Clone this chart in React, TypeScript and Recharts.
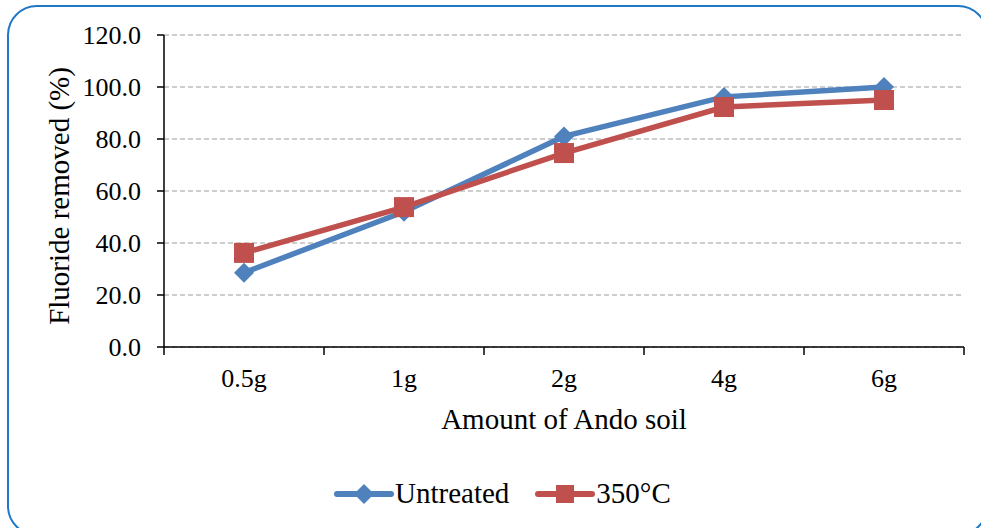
import { CartesianGrid, Line, LineChart, XAxis, YAxis } from 'recharts';

// amount of soil used per run
const categories = ['0.5g', '1g', '2g', '4g', '6g'];

// fluoride removed (%)
const untreated = [28.6, 52.0, 81.0, 96.2, 100.0];
const heated350 = [36.2, 53.8, 74.6, 92.3, 95.0];

const seriesNames = ['Untreated', '350°C'];
const yTicks = [0, 20, 40, 60, 80, 100, 120];
const xTicks = [0, 1, 2, 3, 4, 5];

const BLUE = '#4f81bd';
const RED = '#c0504d';
const FONT = '"Liberation Serif", "Times New Roman", serif';

const data = categories.map((name, i) => ({
    name,
    pos: i + 0.5,
    untreated: untreated[i],
    heated: heated350[i],
}));

const CHART_W = 981;
const CHART_H = 440;
const MARGIN = { top: 35, right: 17, left: 0, bottom: 0 };
const Y_W = 164;
const HALF_BAND = (CHART_W - MARGIN.right - Y_W) / categories.length / 2;

const Diamond = (props: any) => {
    const { cx, cy } = props;
    if (cx == null || cy == null) return <g />;
    return <path d={`M${cx},${cy - 10}L${cx + 10},${cy}L${cx},${cy + 10}L${cx - 10},${cy}Z`} fill={BLUE} />;
};

const Square = (props: any) => {
    const { cx, cy } = props;
    if (cx == null || cy == null) return <g />;
    return <rect x={cx - 10} y={cy - 10} width={20} height={20} fill={RED} />;
};

// labels sit between the boundary ticks
const CatTick = (props: any) => {
    const { x, y, payload } = props;
    const label = categories[payload.value];
    if (!label) return <g />;
    return (
        <text x={x + HALF_BAND} y={y + 32} textAnchor="middle" fill="#000" style={{ fontSize: 26, fontFamily: FONT }}>
            {label}
        </text>
    );
};

const YTick = (props: any) => {
    const { x, y, payload } = props;
    return (
        <text x={x} y={y + 9} textAnchor="end" fill="#000" style={{ fontSize: 26, fontFamily: FONT }}>
            {payload.value.toFixed(1)}
        </text>
    );
};

const YTitle = (props: any) => {
    const { viewBox } = props;
    const cy = viewBox.y + viewBox.height / 2 + 5;
    const x = 69;
    return (
        <text x={x} y={cy} transform={`rotate(-90 ${x} ${cy})`} textAnchor="middle" fill="#000" style={{ fontSize: 29, fontFamily: FONT }}>
            Fluoride removed (%)
        </text>
    );
};

const LegendItem = ({ color, name, square }: { color: string, name: string, square: boolean }) => (
    <div style={{ display: 'flex', alignItems: 'center', marginRight: 26 }}>
        <svg width={60} height={24}>
            <line x1={3} y1={12} x2={57} y2={12} stroke={color} strokeWidth={6} strokeLinecap="round" />
            {square
                ? <rect x={21} y={3} width={18} height={18} fill={color} />
                : <path d="M30,2L40,12L30,22L20,12Z" fill={color} />}
        </svg>
        <span style={{ fontSize: 29, lineHeight: '29px', marginLeft: 1 }}>{name}</span>
    </div>
);

const App = () => {
    return (
        <div style={{ position: 'absolute', left: 0, top: 0, width: 981, height: 528, overflow: 'hidden', background: '#fff', fontFamily: FONT }}>
            <div style={{ position: 'absolute', left: 7, top: 5, width: 981, height: 531, boxSizing: 'border-box', border: '2px solid #1f77c6', borderRadius: 30 }} />
            <div style={{ position: 'absolute', left: 0, top: 0 }}>
                <LineChart width={CHART_W} height={CHART_H} data={data} margin={MARGIN} style={{ fontFamily: FONT }}>
                    <CartesianGrid vertical={false} stroke="#bfbfbf" strokeDasharray="5 3" strokeWidth={1.5} />
                    <XAxis
                        type="number"
                        dataKey="pos"
                        domain={[0, categories.length]}
                        ticks={xTicks}
                        interval={0}
                        height={CHART_H - MARGIN.top - 312}
                        tick={<CatTick />}
                        tickSize={8}
                        tickMargin={0}
                        axisLine={{ stroke: '#000', strokeWidth: 1.5 }}
                        tickLine={{ stroke: '#000', strokeWidth: 1.5 }}
                        label={{ value: 'Amount of Ando soil', position: 'insideBottom', offset: 11, style: { fontSize: 29, fill: '#000', fontFamily: FONT } }}
                    />
                    <YAxis
                        width={Y_W}
                        domain={[0, 120]}
                        ticks={yTicks}
                        interval={0}
                        tick={<YTick />}
                        tickSize={7}
                        tickMargin={16}
                        axisLine={{ stroke: '#000', strokeWidth: 1.5 }}
                        tickLine={{ stroke: '#000', strokeWidth: 1.5 }}
                        label={{ content: <YTitle /> }}
                    />
                    <Line dataKey="untreated" name={seriesNames[0]} stroke={BLUE} strokeWidth={5.5} dot={<Diamond />} activeDot={false} isAnimationActive={false} />
                    <Line dataKey="heated" name={seriesNames[1]} stroke={RED} strokeWidth={5.5} dot={<Square />} activeDot={false} isAnimationActive={false} />
                </LineChart>
            </div>
            <div style={{ position: 'absolute', left: 334, top: 479, display: 'flex', alignItems: 'center', color: '#000' }}>
                <LegendItem color={BLUE} name={seriesNames[0]} square={false} />
                <LegendItem color={RED} name={seriesNames[1]} square={true} />
            </div>
        </div>
    );
};

export default App;
